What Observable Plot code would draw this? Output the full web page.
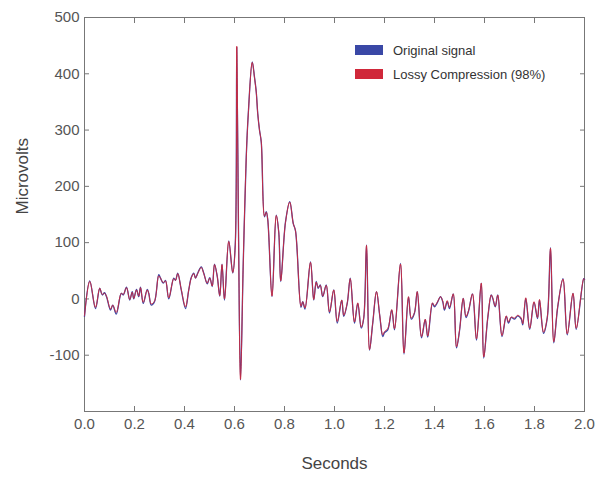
<!DOCTYPE html>
<html>
<head>
<meta charset="utf-8">
<script src="https://cdn.jsdelivr.net/npm/d3@7"></script>
<script src="https://cdn.jsdelivr.net/npm/@observablehq/plot@0.6"></script>
<style>
  body { margin: 0; background: #fff; }
  #wrap { position: relative; width: 600px; height: 481px; font-family: "Liberation Sans", "DejaVu Sans", sans-serif; }
  .legend { position: absolute; left: 355px; top: 38px; font-size: 13px; color: #333; }
  .legend .row { display: flex; align-items: center; height: 24px; }
  .legend .sw { width: 28px; height: 10px; margin-right: 10px; }
</style>
</head>
<body>
<div id="wrap"></div>
<script>
// Time in seconds
const times = [0.000,0.021,0.044,0.061,0.071,0.080,0.088,0.104,0.113,0.127,0.147,0.155,0.168,0.181,0.191,0.197,0.208,0.217,0.224,0.235,0.251,0.257,0.267,0.280,0.297,0.304,0.315,0.324,0.337,0.357,0.364,0.373,0.387,0.404,0.417,0.427,0.437,0.444,0.453,0.467,0.477,0.491,0.501,0.511,0.520,0.531,0.541,0.550,0.560,0.577,0.593,0.603,0.609,0.616,0.624,0.635,0.647,0.655,0.671,0.680,0.687,0.693,0.700,0.707,0.720,0.727,0.733,0.750,0.767,0.777,0.785,0.804,0.821,0.835,0.844,0.866,0.873,0.882,0.904,0.917,0.927,0.935,0.943,0.953,0.967,0.980,0.997,1.011,1.029,1.037,1.051,1.063,1.080,1.093,1.107,1.117,1.128,1.140,1.153,1.168,1.181,1.193,1.200,1.213,1.229,1.240,1.264,1.278,1.296,1.307,1.320,1.331,1.348,1.363,1.373,1.392,1.400,1.411,1.424,1.433,1.440,1.451,1.460,1.475,1.488,1.500,1.515,1.526,1.536,1.552,1.568,1.587,1.597,1.613,1.627,1.633,1.643,1.653,1.670,1.687,1.696,1.707,1.720,1.733,1.747,1.753,1.765,1.781,1.798,1.812,1.820,1.836,1.851,1.864,1.877,1.893,1.914,1.931,1.954,1.967,1.997,2.000];
// Original signal (microvolts)
const original = [-31,32,-17,19,7,11,4,-20,-11,-27,10,7,21,-2,13,0,17,4,21,-8,17,10,-11,-5,43,37,28,33,0,37,33,46,16,-17,16,38,46,37,46,57,46,27,38,22,62,40,5,62,-2,103,46,96,447,122,-144,63,252,328,421,394,368,329,300,279,146,155,141,4,149,118,31,137,173,134,121,-15,-5,-18,66,-2,31,19,25,4,25,-25,16,-43,-2,-31,-8,37,-43,-8,-52,-34,96,-91,-43,13,-30,-67,-60,-55,-20,-55,63,-98,3,-36,-25,13,-69,-37,-68,-8,-14,-7,4,-5,-20,-5,-17,9,-87,-57,1,-33,-22,9,-73,28,-105,-34,7,1,-14,7,-67,-31,-43,-33,-36,-30,-36,-46,1,-54,-6,-35,-2,-61,-34,91,-78,-14,36,-64,10,-54,36,35];
// Lossy compression (98%) (microvolts)
const compressed = [-30,31,-15,19,8,10,5,-18,-11,-24,10,8,20,-1,12,1,16,5,20,-6,16,10,-9,-4,41,37,29,32,2,36,33,45,17,-14,16,37,45,37,45,56,45,28,37,23,61,40,6,61,0,102,47,95,449,121,-143,64,251,327,420,393,367,329,300,279,147,154,141,5,148,119,32,136,172,134,121,-13,-5,-16,65,-1,30,20,24,5,24,-23,16,-40,-2,-29,-7,36,-41,-7,-50,-33,95,-90,-42,13,-29,-64,-58,-53,-19,-53,62,-96,4,-34,-24,13,-67,-36,-66,-7,-12,-6,4,-4,-18,-3,-15,9,-85,-56,1,-31,-21,9,-71,28,-103,-33,7,2,-13,7,-65,-30,-41,-32,-34,-29,-34,-44,2,-52,-5,-33,-1,-59,-33,90,-76,-13,35,-62,10,-52,36,35];

const seriesNames = ["Original signal", "Lossy Compression (98%)"];
const seriesColors = ["#3a48a6", "#d0283a"];
const yTicks = [-100, 0, 100, 200, 300, 400, 500];
const xTicks = [0, 0.2, 0.4, 0.6, 0.8, 1.0, 1.2, 1.4, 1.6, 1.8, 2.0];
const xLabel = "Seconds";
const yLabel = "Microvolts";

const origData = times.map((t, i) => ({t, v: original[i]}));
const compData = times.map((t, i) => ({t, v: compressed[i]}));

const chart = Plot.plot({
  width: 600,
  height: 481,
  marginLeft: 84,
  marginRight: 16,
  marginTop: 17,
  marginBottom: 70,
  style: {fontFamily: "Liberation Sans, DejaVu Sans, sans-serif", color: "#555", background: "#fff"},
  x: {domain: [0, 2]},
  y: {domain: [-200, 500]},
  marks: [
    Plot.axisY({ticks: yTicks, anchor: "left", tickSize: -5, tickPadding: 10, fontSize: 15, stroke: "#777",
      label: null, tickFormat: d => String(d)}),
    Plot.axisY({ticks: yTicks, anchor: "right", tickSize: -5, stroke: "#777", tickFormat: () => "", label: null}),
    Plot.axisX({ticks: xTicks, anchor: "bottom", tickSize: -5, tickPadding: 12, fontSize: 15, stroke: "#777",
      label: null, tickFormat: d3.format(".1f")}),
    Plot.axisX({ticks: xTicks, anchor: "top", tickSize: -5, stroke: "#777", tickFormat: () => "", label: null}),
    Plot.text([yLabel], {text: d => d, frameAnchor: "left", dx: -62, rotate: -90, fontSize: 17, fill: "#444"}),
    Plot.text([xLabel], {text: d => d, frameAnchor: "bottom", dy: 57, fontSize: 17, fill: "#444"}),
    Plot.frame({stroke: "#777"}),
    Plot.line(origData, {x: "t", y: "v", stroke: seriesColors[0], strokeWidth: 1.3, curve: "catmull-rom"}),
    Plot.line(compData, {x: "t", y: "v", stroke: seriesColors[1], strokeWidth: 1, strokeOpacity: 0.9, curve: "catmull-rom"})
  ]
});

const wrap = document.getElementById("wrap");
wrap.appendChild(chart);
const leg = document.createElement("div");
leg.className = "legend";
seriesNames.forEach((name, i) => {
  const row = document.createElement("div");
  row.className = "row";
  const sw = document.createElement("div");
  sw.className = "sw";
  sw.style.background = seriesColors[i];
  const tx = document.createElement("span");
  tx.textContent = name;
  row.appendChild(sw);
  row.appendChild(tx);
  leg.appendChild(row);
});
wrap.appendChild(leg);
</script>
</body>
</html>
